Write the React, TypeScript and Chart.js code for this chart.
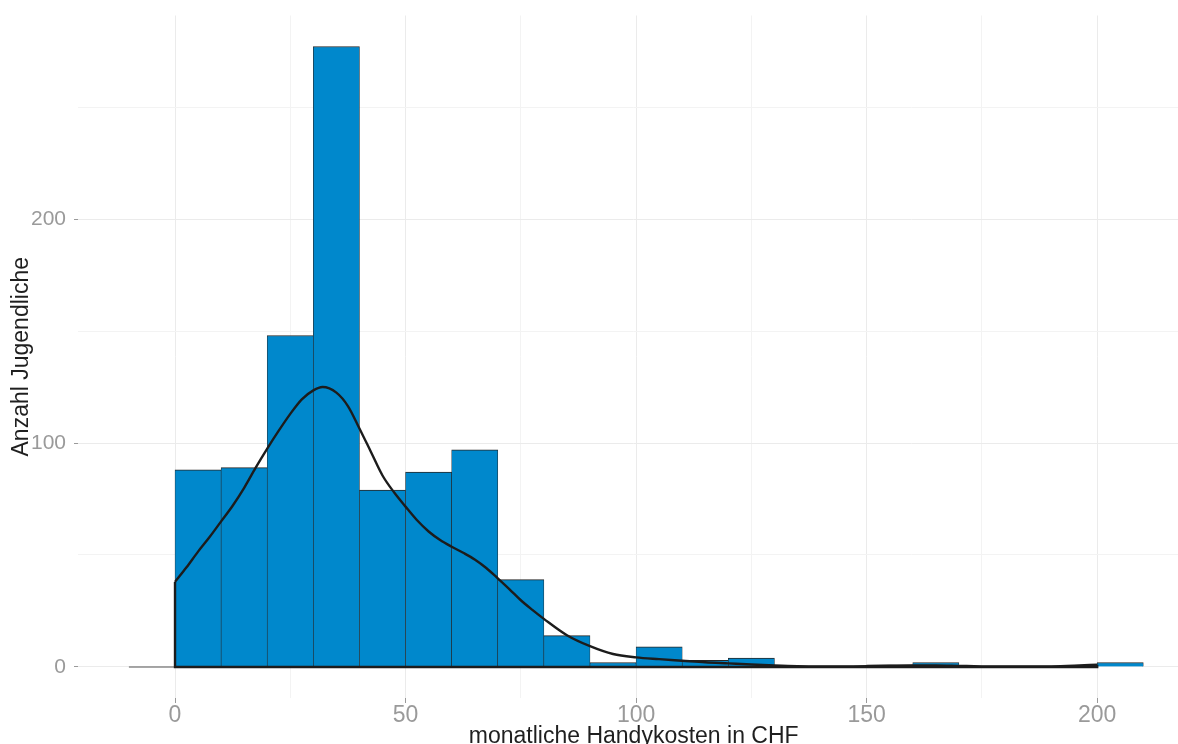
import React, { useEffect, useRef } from 'react';
import { Chart, registerables } from 'chart.js';

Chart.register(...registerables);

// ---- data ----
const binWidth = 10;
const binStarts = [0, 10, 20, 30, 40, 50, 60, 70, 80, 90, 100, 110, 120, 130, 140, 150, 160, 170, 180, 190, 200];
const counts = [88, 89, 148, 277, 79, 87, 97, 39, 14, 2, 9, 3, 4, 0, 0, 1, 2, 0, 0, 0, 2];

const densityX = [0, 2.5, 5, 7.5, 10, 12.5, 15, 17.5, 20, 22.5, 25, 27.5, 30, 32, 35, 37.5, 40, 42.5, 45, 47.5, 50, 52.5, 55, 57.5, 60, 62.5, 65, 67.5, 70, 72.5, 75, 77.5, 80, 85, 90, 95, 100, 105, 110, 115, 120, 125, 130, 135, 140, 145, 150, 155, 160, 165, 170, 175, 180, 185, 190, 195, 200];
const densityY = [38, 44.5, 51.5, 58, 65, 72, 80, 89, 97.5, 105.5, 113, 119.5, 123.5, 125, 122.5, 116.5, 106.5, 96, 85.5, 78, 71.6, 65.5, 60.5, 56.7, 53.7, 51, 48, 44.2, 39.6, 34.8, 29.8, 25.5, 21.5, 14.2, 9.3, 5.8, 4.3, 3.5, 2.8, 2.1, 1.6, 1.1, 0.7, 0.4, 0.3, 0.3, 0.4, 0.6, 0.7, 0.7, 0.5, 0.3, 0.2, 0.2, 0.3, 0.6, 1.0];

const baselineX = [-10, 0];

const xMajorTicks = [0, 50, 100, 150, 200];
const xMinorTicks = [25, 75, 125, 175];
const yMajorTicks = [0, 100, 200];
const yMinorTicks = [50, 150, 250];

const xTitle = 'monatliche Handykosten in CHF';
const yTitle = 'Anzahl Jugendliche';

const FONT = '"Liberation Sans", Arial, Helvetica, sans-serif';

export default function App() {
  const ref = useRef<HTMLCanvasElement>(null);

  useEffect(() => {
    const canvas = ref.current;
    if (!canvas) return;

    const barData = binStarts.map((s, i) => ({ x: s + binWidth / 2, y: counts[i] }));
    const densityData = densityX.map((x, i) => ({ x, y: densityY[i] }));
    const last = densityX.length - 1;
    const outlineData = [
      { x: densityX[0], y: densityY[0] },
      { x: densityX[0], y: 0 },
      { x: densityX[last], y: 0 },
      { x: densityX[last], y: densityY[last] },
    ];
    const baseData = baselineX.map((x) => ({ x, y: 0 }));

    const xGrid = [...xMajorTicks, ...xMinorTicks].sort((a, b) => a - b);
    const yGrid = [...yMajorTicks, ...yMinorTicks].sort((a, b) => a - b);

    const gridColor = (major: number[]) => (ctx: any) =>
      ctx.tick && major.includes(ctx.tick.value) ? '#ebebeb' : '#f3f3f3';
    const tickColor = (major: number[]) => (ctx: any) =>
      ctx.tick && major.includes(ctx.tick.value) ? '#9a9a9a' : 'rgba(0,0,0,0)';

    const noPad = (s: any) => {
      s.paddingTop = 0;
      s.paddingBottom = 0;
      s.paddingLeft = 0;
      s.paddingRight = 0;
    };

    const chart = new Chart(canvas, {
      type: 'bar',
      data: {
        datasets: [
          {
            type: 'bar',
            data: barData as any,
            backgroundColor: '#0088cc',
            borderColor: '#262626',
            borderWidth: { top: 1, left: 0.6, right: 0.6, bottom: 0 } as any,
            borderSkipped: false,
            barPercentage: 1,
            categoryPercentage: 1,
            order: 3,
          } as any,
          {
            type: 'line',
            data: baseData as any,
            borderColor: '#8a8a8a',
            borderWidth: 1.6,
            pointRadius: 0,
            tension: 0,
            order: 2,
          } as any,
          {
            type: 'line',
            data: outlineData as any,
            borderColor: '#1c1c1c',
            borderWidth: 2.4,
            pointRadius: 0,
            tension: 0,
            order: 1,
          } as any,
          {
            type: 'line',
            data: densityData as any,
            borderColor: '#1c1c1c',
            borderWidth: 2.4,
            pointRadius: 0,
            cubicInterpolationMode: 'monotone',
            order: 0,
          } as any,
        ],
      },
      options: {
        animation: false,
        responsive: false,
        devicePixelRatio: 1,
        layout: { padding: { left: 0, top: 15.5, right: 10.6, bottom: 0 } },
        plugins: { legend: { display: false }, tooltip: { enabled: false } },
        scales: {
          x: {
            type: 'linear',
            min: -21.04,
            max: 220,
            offset: false,
            afterBuildTicks: (s: any) => {
              s.ticks = xGrid.map((v) => ({ value: v }));
            },
            afterFit: (s: any) => {
              s.height = 62;
              noPad(s);
            },
            grid: {
              offset: false,
              color: gridColor(xMajorTicks),
              tickColor: tickColor(xMajorTicks),
              lineWidth: 1,
              tickLength: 5,
              tickWidth: 1,
              drawTicks: true,
            },
            border: { display: false },
            ticks: {
              autoSkip: false,
              maxRotation: 0,
              padding: 0.8,
              color: '#9a9a9a',
              font: { family: FONT, size: 23, lineHeight: 1 },
              callback: (v: any) => (xMajorTicks.includes(Number(v)) ? String(v) : ''),
            },
            title: {
              display: true,
              text: xTitle,
              color: '#1f1f1f',
              font: { family: FONT, size: 23 },
              padding: { top: 0, bottom: 10 },
            },
          } as any,
          y: {
            type: 'linear',
            min: -13.84,
            max: 290.85,
            afterBuildTicks: (s: any) => {
              s.ticks = yGrid.map((v) => ({ value: v }));
            },
            afterFit: (s: any) => {
              s.width = 78;
              noPad(s);
            },
            grid: {
              color: gridColor(yMajorTicks),
              tickColor: tickColor(yMajorTicks),
              lineWidth: 1,
              tickLength: 4,
              tickWidth: 1,
              drawTicks: true,
            },
            border: { display: false },
            ticks: {
              autoSkip: false,
              padding: 8,
              color: '#9a9a9a',
              font: { family: FONT, size: 21 },
              callback: (v: any) => (yMajorTicks.includes(Number(v)) ? String(v) : ''),
            },
            title: {
              display: true,
              text: yTitle,
              color: '#1f1f1f',
              font: { family: FONT, size: 23 },
              padding: { top: 7.5, bottom: 0 },
            },
          } as any,
        },
      },
    });

    return () => chart.destroy();
  }, []);

  return (
    <div
      style={{
        position: 'fixed',
        left: 0,
        top: 0,
        width: 1178,
        height: 744,
        overflow: 'hidden',
        background: '#ffffff',
      }}
    >
      <canvas ref={ref} width={1200} height={760} style={{ display: 'block', width: 1200, height: 760 }} />
    </div>
  );
}
